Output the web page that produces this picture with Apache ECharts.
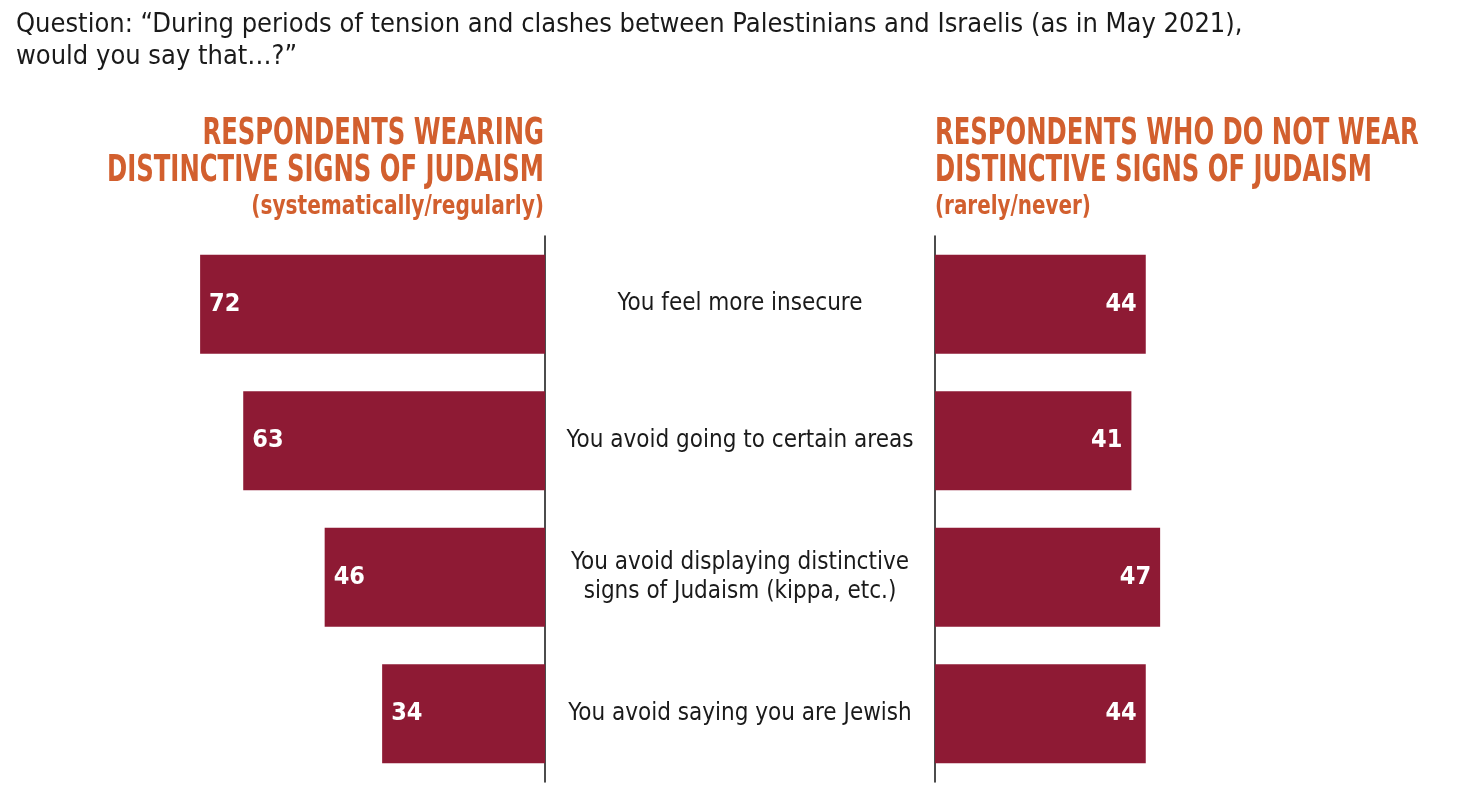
<!DOCTYPE html>
<html>
<head>
<meta charset="utf-8">
<script src="https://cdn.jsdelivr.net/npm/echarts@6/dist/echarts.min.js"></script>
<style>
  html, body { margin: 0; padding: 0; background: #fff; }
  #chart { width: 1482px; height: 788px; }
</style>
</head>
<body>
<div id="chart"></div>
<script>
const categories = [
  'You feel more insecure',
  'You avoid going to certain areas',
  'You avoid displaying distinctive\nsigns of Judaism (kippa, etc.)',
  'You avoid saying you are Jewish'
];
const wearing = [72, 63, 46, 34];
const notWearing = [44, 41, 47, 44];

const FONT = "'Liberation Sans Narrow', 'DejaVu Sans Condensed', 'Arial Narrow', sans-serif";
const BAR = '#8e1a34';
const ORANGE = '#d25f2e';
const INK = '#1a1a1a';

const chart = echarts.init(document.getElementById('chart'));

const valueLabel = (pos) => ({
  show: true,
  position: pos,
  distance: 9,
  color: '#fff',
  fontFamily: FONT,
  fontWeight: 'bold',
  fontSize: 25
});

// headings are squeezed horizontally to look like a condensed face
chart.setOption({
  animation: false,
  textStyle: { fontFamily: FONT },
  graphic: [
    { type: 'text', left: 16, top: 9,
      style: { text: 'Question: \u201cDuring periods of tension and clashes between Palestinians and Israelis (as in May 2021),\nwould you say that\u2026?\u201d',
        font: '27px ' + FONT, fill: INK, lineHeight: 32 } },
    { type: 'text', x: 544, y: 116, scaleX: 0.73,
      style: { text: 'RESPONDENTS WEARING\nDISTINCTIVE SIGNS OF JUDAISM', textAlign: 'right',
        font: 'bold 37px ' + FONT, fill: ORANGE, lineHeight: 37 } },
    { type: 'text', x: 544, y: 193, scaleX: 0.83,
      style: { text: '(systematically/regularly)', textAlign: 'right',
        font: 'bold 27px ' + FONT, fill: ORANGE } },
    { type: 'text', x: 935, y: 116, scaleX: 0.73,
      style: { text: 'RESPONDENTS WHO DO NOT WEAR\nDISTINCTIVE SIGNS OF JUDAISM',
        font: 'bold 37px ' + FONT, fill: ORANGE, lineHeight: 37 } },
    { type: 'text', x: 935, y: 193, scaleX: 0.82,
      style: { text: '(rarely/never)',
        font: 'bold 27px ' + FONT, fill: ORANGE } }
  ],
  grid: [
    { left: 545 - 479, width: 479, top: 236, height: 546 },
    { left: 935, width: 479, top: 236, height: 546 }
  ],
  xAxis: [
    { gridIndex: 0, type: 'value', min: 0, max: 100, inverse: true, show: false },
    { gridIndex: 1, type: 'value', min: 0, max: 100, show: false }
  ],
  yAxis: [
    { gridIndex: 0, type: 'category', data: categories, inverse: true, position: 'right',
      axisLine: { lineStyle: { color: '#111', width: 1.5 } },
      axisTick: { show: false }, axisLabel: { show: false } },
    { gridIndex: 1, type: 'category', data: categories, inverse: true, position: 'left',
      axisLine: { lineStyle: { color: '#111', width: 1.5 } },
      axisTick: { show: false },
      axisLabel: { align: 'center', margin: 195, color: INK, fontFamily: FONT,
        fontSize: 24, lineHeight: 29, padding: [7, 0, 0, 0] } }
  ],
  series: [
    { type: 'bar', xAxisIndex: 0, yAxisIndex: 0, data: wearing, barWidth: 99,
      itemStyle: { color: BAR }, label: valueLabel('insideLeft') },
    { type: 'bar', xAxisIndex: 1, yAxisIndex: 1, data: notWearing, barWidth: 99,
      itemStyle: { color: BAR }, label: valueLabel('insideRight') }
  ]
});
</script>
</body>
</html>
